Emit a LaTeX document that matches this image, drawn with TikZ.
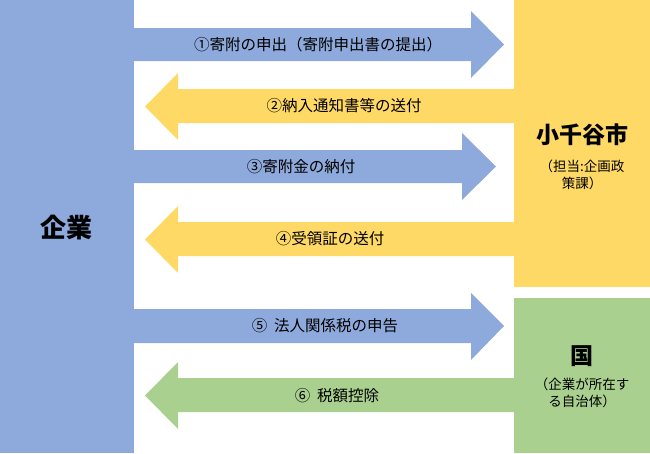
\documentclass[tikz,border=0pt]{standalone}
\usepackage{fontspec}
\setmainfont{Noto Sans CJK JP}
\definecolor{kblue}{HTML}{8EA9DB}
\definecolor{kyellow}{HTML}{FFD966}
\definecolor{kgreen}{HTML}{A9D08E}
\begin{document}
\begin{tikzpicture}[x=1pt, y=-1pt, inner sep=0pt]
	\useasboundingbox (0, 0) rectangle (650, 453);
	% boxes
	\fill[kblue] (0, 0) rectangle (134, 453);
	\fill[kyellow] (514, 0) rectangle (650, 287);
	\fill[kgreen] (514, 298) rectangle (650, 453);
	\node[font=\bfseries\fontsize{26}{30}\selectfont] (kigyo) at (66, 228) {企業};
	\node[font=\bfseries\fontsize{23}{27}\selectfont] (shi) at (582, 135) {小千谷市};
	\node[font=\fontsize{13.5}{17}\selectfont, align=center] (shisub) at (582, 175) {（担当:企画政\\策課）};
	\node[font=\bfseries\fontsize{23}{27}\selectfont] (kuni) at (582, 356) {国};
	\node[font=\fontsize{13.5}{17}\selectfont, align=center] (kunisub) at (582, 393) {（企業が所在す\\る自治体）};
	
	% arrows to the right
	\fill[kblue] (134, 28) -- (471, 28) -- (471, 11) -- (504, 44.5) -- (471, 78) -- (471, 61) -- (134, 61) -- cycle;
	\fill[kblue] (134, 150) -- (462, 150) -- (462, 133) -- (496, 166.5) -- (462, 200) -- (462, 183) -- (134, 183) -- cycle;
	\fill[kblue] (134, 309) -- (471, 309) -- (471, 293) -- (504, 326) -- (471, 360) -- (471, 343) -- (134, 343) -- cycle;
	% arrows to the left
	\fill[kyellow] (514, 89) -- (178, 89) -- (178, 73) -- (145, 106.5) -- (178, 140) -- (178, 123) -- (514, 123) -- cycle;
	\fill[kyellow] (514, 222) -- (178, 222) -- (178, 206) -- (145, 239.5) -- (178, 273) -- (178, 256) -- (514, 256) -- cycle;
	\fill[kgreen] (514, 378) -- (178, 378) -- (178, 362) -- (145, 395.5) -- (178, 429) -- (178, 412) -- (514, 412) -- cycle;
	
	\begin{scope}[font=\fontsize{15.5}{18}\selectfont]
		\node (step1) at (318, 45) {①寄附の申出（寄附申出書の提出）};
		\node (step2) at (344, 106) {②納入通知書等の送付};
		\node (step3) at (301, 167) {③寄附金の納付};
		\node (step4) at (330, 239) {④受領証の送付};
		\node (step5) at (325, 326) {⑤\ \ 法人関係税の申告};
		\node (step6) at (337, 396) {⑥\ \ 税額控除};
	\end{scope}
\end{tikzpicture}
\end{document}
